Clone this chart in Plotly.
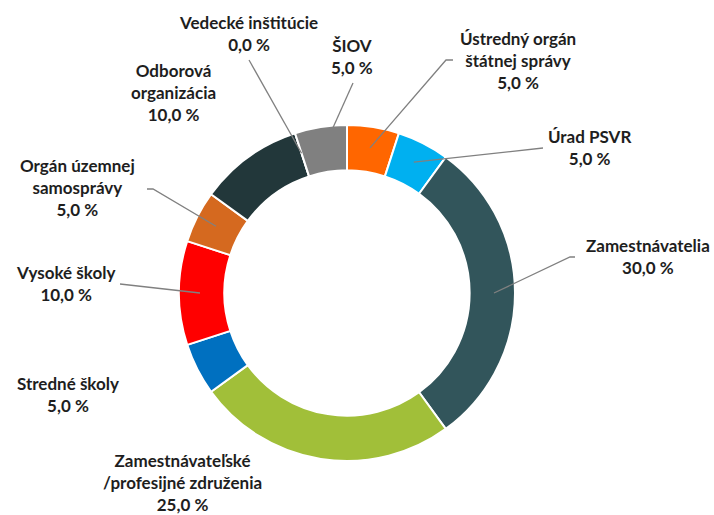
import math
import plotly.graph_objects as go

# ---- data ----
categories = [
    "Ústredný orgán<br>štátnej správy",
    "Úrad PSVR",
    "Zamestnávatelia",
    "Zamestnávateľské<br>/profesijné združenia",
    "Stredné školy",
    "Vysoké školy",
    "Orgán územnej<br>samosprávy",
    "Odborová<br>organizácia",
    "Vedecké inštitúcie",
    "ŠIOV",
]
shares = [5.0, 5.0, 30.0, 25.0, 5.0, 10.0, 5.0, 10.0, 0.0, 5.0]
colors = ["#FF6600", "#00B0F0", "#32555B", "#A1BF39", "#0070C0",
          "#FF0000", "#D5691F", "#22373A", "#BFBFBF", "#808080"]

# ---- layout (pixels) ----
W, H = 714, 515
CX, CY, R = 347, 293, 168
HOLE = 0.73
LEADER_R = 0.875  # fraction of outer radius where leader lines start

# label centre (px) and leader path after the slice point (px), None = no leader
label_pos = [
    (518, 38), (589, 136), (648, 245), (183, 460), (68, 383),
    (65, 272), (77, 165), (173, 70), (248, 22), (352, 45),
]
leader_pts = [
    [(446, 60), (453, 60)],
    [(543, 148)],
    [(570, 257), (575, 257)],
    None,
    None,
    [(120, 284)],
    [(153, 189), (147, 189)],
    None,
    [(249, 60)],
    [(353, 83)],
]

def px(x):
    return x / W

def py(y):
    return 1 - y / H

fig = go.Figure(go.Pie(
    labels=categories,
    values=shares,
    sort=False,
    direction="clockwise",
    rotation=0,
    hole=HOLE,
    marker=dict(colors=colors, line=dict(color="white", width=2)),
    textinfo="none",
    showlegend=False,
    domain=dict(x=[px(CX - R), px(CX + R)], y=[py(CY + R), py(CY - R)]),
))

FS = 17
total = sum(shares)
cum = 0.0
shapes = []
annotations = []
for i, (lab, v) in enumerate(zip(categories, shares)):
    mid = (cum + v / 2) / total * 360.0
    cum += v
    ang = math.radians(mid)
    sx = CX + LEADER_R * R * math.sin(ang)
    sy = CY - LEADER_R * R * math.cos(ang)
    if leader_pts[i]:
        pts = [(sx, sy)] + leader_pts[i]
        path = "M " + " L ".join(f"{px(x):.5f},{py(y):.5f}" for x, y in pts)
        shapes.append(dict(type="path", path=path, xref="paper", yref="paper",
                           line=dict(color="#808080", width=1.3)))
    lx, ly = label_pos[i]
    annotations.append(dict(
        x=px(lx), y=py(ly) + 12 / H, xref="paper", yref="paper",
        xanchor="center", yanchor="top", showarrow=False,
        text=f"<b>{lab}<br>{v:.1f} %</b>".replace(".", ","),
        font=dict(family="Lato, Open Sans, sans-serif", size=FS, color="#1E1E1E"),
        align="center",
    ))

fig.update_layout(
    width=W, height=H,
    margin=dict(l=0, r=0, t=0, b=0),
    paper_bgcolor="white",
    plot_bgcolor="white",
    shapes=shapes,
    annotations=annotations,
)

fig.write_html("out.html",
               config={"displayModeBar": False},
               post_script="document.body.style.margin='0';document.body.style.overflow='hidden';")
